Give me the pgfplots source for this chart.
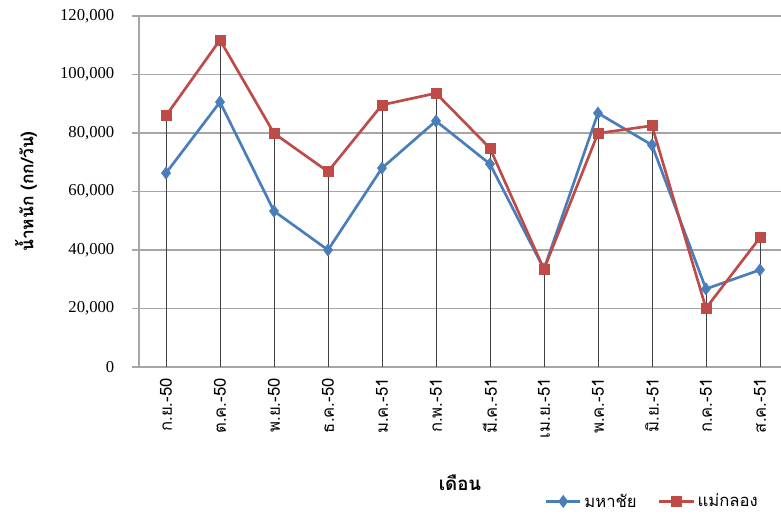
\documentclass[border=0pt]{standalone}
\usepackage{fontspec}
\usepackage{pgfplots}
\pgfplotsset{compat=1.18}
\setmainfont{Liberation Serif}
\newfontfamily\thai[Script=Thai]{Loma}
\definecolor{sblue}{HTML}{4A7EBB}
\definecolor{sred}{HTML}{BE4B48}
\definecolor{gridc}{HTML}{A6A6A6}
\begin{document}
\begin{tikzpicture}
\path[use as bounding box] (0pt,0pt) rectangle (585.75pt,388.5pt);
\begin{axis}[
  at={(104.25pt,113.25pt)}, anchor=south west,
  scale only axis, width=481.5pt, height=263.25pt,
  xmin=-0.5, xmax=11.39, ymin=0, ymax=120000,
  axis x line=bottom, axis y line=left,
  axis line style={-, draw=gridc, line width=0.8pt},
  ytick={0,20000,40000,60000,80000,100000,120000},
  ymajorgrids, grid style={gridc, line width=0.8pt},
  tick align=outside, major tick length=5pt,
  ytick style={draw=gridc, line width=0.8pt},
  xtick style={draw=none},
  scaled y ticks=false,
  yticklabel style={xshift=-10pt, font=\fontsize{12.5}{14}\selectfont, /pgf/number format/fixed, /pgf/number format/1000 sep={,}, /pgf/number format/assume math mode=true},
  xtick={0,...,11},
  xticklabels={ก.ย.-50,ต.ค.-50,พ.ย.-50,ธ.ค.-50,ม.ค.-51,ก.พ.-51,มี.ค.-51,เม.ย.-51,พ.ค.-51,มิ.ย.-51,ก.ค.-51,ส.ค.-51},
  xticklabel style={rotate=90, anchor=east, font=\thai\fontsize{12.5}{14}\selectfont},
  xlabel={เดือน},
  xlabel style={at={(axis description cs:0.50,-0.33)}, anchor=center, font=\thai\bfseries\fontsize{14}{16}\selectfont},
  ylabel={น้ำหนัก (กก/วัน)},
  ylabel style={at={(axis description cs:-0.176,0.5)}, anchor=center, font=\thai\bfseries\fontsize{13}{15}\selectfont},
  legend columns=2,
  legend style={at={(axis description cs:0.80,-0.383)}, anchor=center, draw=none, fill=none,
    font=\thai\fontsize{12.5}{14}\selectfont, /tikz/every even column/.append style={column sep=14pt}},
  legend image code/.code={\draw[mark repeat=2,mark phase=2,#1] plot coordinates {(0cm,0cm) (0.45cm,0cm) (0.9cm,0cm)};},
  clip=false,
]
\addplot[ycomb, draw=black!75, line width=0.6pt, no markers, forget plot] coordinates {
(0,85900) (1,111800) (2,79900) (3,66800) (4,89600) (5,93600) (6,74800) (7,33500) (8,86800) (9,82500) (10,26700) (11,44200)};
\addplot[sblue, line width=2pt, mark=diamond*, mark size=4.5pt, mark options={solid, fill=sblue, line width=0.5pt}] coordinates {
(0,66300) (1,90600) (2,53300) (3,40000) (4,68000) (5,84100) (6,69400) (7,33500) (8,86800) (9,75900) (10,26700) (11,33200)};
\addlegendentry{มหาชัย}
\addplot[sred, line width=2pt, mark=square*, mark size=3.8pt, mark options={solid, fill=sred, line width=0.5pt}] coordinates {
(0,85900) (1,111800) (2,79900) (3,66800) (4,89600) (5,93600) (6,74800) (7,33400) (8,79900) (9,82500) (10,20100) (11,44200)};
\addlegendentry{แม่กลอง}
\end{axis}
\end{tikzpicture}
\end{document}
